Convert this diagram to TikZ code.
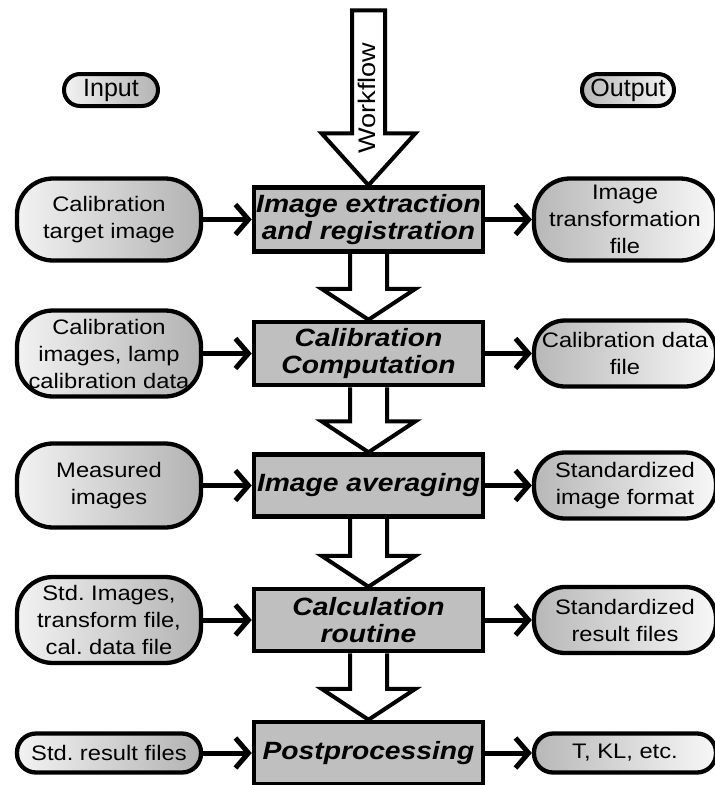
\documentclass[tikz,border=0pt]{standalone}
\usepackage{fontspec}
\setmainfont[FakeStretch=1.13]{Liberation Sans}
\newfontfamily\lblfont{Liberation Sans}
\usetikzlibrary{arrows.meta,calc,backgrounds}
\frenchspacing
\begin{document}
\begin{tikzpicture}[x=1pt,y=-1pt,
  mainbox/.style={draw, line width=4.5pt, fill=black!25, minimum width=229pt, inner sep=2pt, align=center,
    font=\fontsize{25}{27}\selectfont\bfseries\itshape},
  inpill/.style={draw, line width=4.3pt, rounded corners=36pt, left color=black!5, right color=black!30,
    minimum width=184pt, inner sep=2pt, align=center, font=\fontsize{21}{27}\selectfont},
  outpill/.style={inpill, rounded corners=31pt, left color=black!28, right color=black!3, minimum width=182pt},
  lblpill/.style={draw, line width=4pt, rounded corners=16pt, minimum height=32pt, inner sep=2pt,
    font=\lblfont\fontsize{25}{27}\selectfont},
  conn/.style={line width=5pt, -{Straight Barb[length=13pt,width=30pt]}},
  blockarrow/.style={draw, line width=4pt, fill=white, line join=miter},
]
\useasboundingbox (0,0) rectangle (715,785);
\clip (0,0) rectangle (715,785);

% labels
\node[lblpill, minimum width=94pt, left color=black!5, right color=black!30] (inlbl) at (111,90) {Input};
\node[lblpill, minimum width=92pt, left color=black!28, right color=black!3] (outlbl) at (628,90) {Output};

% main boxes
\node[mainbox, minimum height=64pt] (b1) at (368.5,219.5) {Image extraction\\and registration};
\node[mainbox, minimum height=63pt] (b2) at (368.5,353.5) {Calibration\\Computation};
\node[mainbox, minimum height=62pt] (b3) at (368.5,485.5) {Image averaging};
\node[mainbox, minimum height=62pt] (b4) at (368.5,620) {Calculation\\routine};
\node[mainbox, minimum height=62pt] (b5) at (368.5,753) {Postprocessing};

% inputs
\node[inpill, minimum height=82pt] (i1) at (109,219.5) {Calibration\\target image};
\node[inpill, minimum height=86pt] (i2) at (109,353.5) {Calibration\\images, lamp\\calibration data};
\node[inpill, minimum height=84pt] (i3) at (109,485.5) {Measured\\images};
\node[inpill, minimum height=86pt] (i4) at (109,620) {Std. Images,\\transform file,\\cal. data file};
\node[inpill, minimum height=39pt, rounded corners=19pt] (i5) at (109,753) {Std. result files};

% outputs
\node[outpill, minimum height=82pt, rounded corners=36pt] (o1) at (625,219.5) {Image\\transformation\\file};
\node[outpill, minimum height=66pt] (o2) at (625,353.5) {Calibration data\\file};
\node[outpill, minimum height=66pt] (o3) at (625,485.5) {Standardized\\image format};
\node[outpill, minimum height=66pt] (o4) at (625,620) {Standardized\\result files};
\node[outpill, minimum height=39pt, rounded corners=19pt] (o5) at (625,753) {T, KL, etc.};

% connectors
\foreach \k in {1,...,5}{
  \draw[conn] (i\k.east) -- (b\k.west);
  \draw[conn] (b\k.east) -- (o\k.west);
}

\begin{scope}[on background layer]
  % workflow arrow
  \path[blockarrow] ($(b1.north)+(-16.5,-175)$) -- ($(b1.north)+(-16.5,-52)$) -- ($(b1.north)+(-47,-52)$)
     -- (b1.north) -- ($(b1.north)+(47,-52)$) -- ($(b1.north)+(16.5,-52)$) -- ($(b1.north)+(16.5,-175)$) -- cycle;
  % down arrows
  \foreach \a/\b in {b1/b2,b2/b3,b3/b4,b4/b5}{
    \path[blockarrow] ($(\a.south)+(-18.5,0)$) -- ($(\b.north)+(-18.5,-31)$) -- ($(\b.north)+(-47,-31)$)
       -- (\b.north) -- ($(\b.north)+(47,-31)$) -- ($(\b.north)+(18.5,-31)$) -- ($(\a.south)+(18.5,0)$);
  }
\end{scope}
\node[rotate=90, font=\fontsize{24}{24}\selectfont, inner sep=0pt] (wf) at (367,98) {Workflow};
\end{tikzpicture}
\end{document}
